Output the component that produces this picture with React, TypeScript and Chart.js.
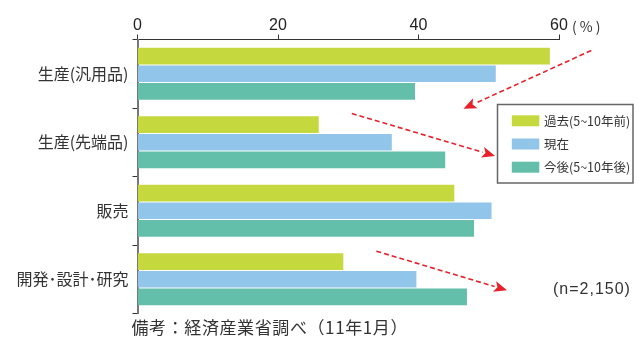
import React, { useEffect, useRef } from "react";
import { Chart, registerables } from "chart.js";

Chart.register(...registerables);

// 業務分野ごとの海外展開の割合（％）
const categories = ["生産(汎用品)", "生産(先端品)", "販売", "開発･設計･研究"];
const seriesLabels = ["過去(5~10年前)", "現在", "今後(5~10年後)"];
const pastValues = [58.7, 25.8, 45.1, 29.3];
const currentValues = [51.0, 36.2, 50.4, 39.7];
const futureValues = [39.5, 43.8, 47.9, 46.9];
const seriesColors = ["#c5d93f", "#92c5ea", "#63bfaa"];
const xTicks = [0, 20, 40, 60];
const unitLabel = "(%)";
const sampleNote = "(n=2,150)";
const sourceNote = "備考：経済産業省調べ（11年1月）";

// 矢印（x: ％の値, y: カテゴリ番号）
const arrows = [
  { from: [64.6, -0.34], to: [46.4, 0.51] },
  { from: [30.5, 0.58], to: [50.9, 1.2] },
  { from: [34.0, 2.59], to: [52.6, 3.16] },
];

const CJK = '"Noto Sans CJK JP", "Liberation Sans", sans-serif';
const LATIN = '"Liberation Sans", "Noto Sans CJK JP", sans-serif';

const annotationPlugin = {
  id: "annotations",
  afterDraw(chart: any) {
    const { ctx, chartArea, scales } = chart;
    const xs = scales.x;
    const ys = scales.y;
    ctx.save();

    // 単位
    ctx.fillStyle = "#333";
    ctx.font = `14px ${CJK}`;
    ctx.textAlign = "left";
    ctx.textBaseline = "middle";
    ctx.letterSpacing = "3px";
    ctx.fillText(unitLabel, xs.getPixelForValue(60) + 13, 27);
    ctx.letterSpacing = "0px";

    // 矢印
    const red = "#e8202a";
    arrows.forEach((a) => {
      const x1 = xs.getPixelForValue(a.from[0]);
      const y1 = ys.getPixelForValue(a.from[1]);
      const x2 = xs.getPixelForValue(a.to[0]);
      const y2 = ys.getPixelForValue(a.to[1]);
      const ang = Math.atan2(y2 - y1, x2 - x1);
      const headLen = 13;
      const headW = 5.5;
      const bx = x2 - Math.cos(ang) * headLen;
      const by = y2 - Math.sin(ang) * headLen;
      ctx.strokeStyle = red;
      ctx.lineWidth = 1.6;
      ctx.setLineDash([5, 3]);
      ctx.beginPath();
      ctx.moveTo(x1, y1);
      ctx.lineTo(bx, by);
      ctx.stroke();
      ctx.setLineDash([]);
      ctx.fillStyle = red;
      ctx.beginPath();
      ctx.moveTo(x2, y2);
      ctx.lineTo(bx + Math.sin(ang) * headW, by - Math.cos(ang) * headW);
      ctx.lineTo(bx + Math.cos(ang) * 3, by + Math.sin(ang) * 3);
      ctx.lineTo(bx - Math.sin(ang) * headW, by + Math.cos(ang) * headW);
      ctx.closePath();
      ctx.fill();
    });

    // 凡例
    const boxL = chartArea.right - 61.5;
    const boxT = chartArea.top + 65;
    const boxW = 135.5;
    const boxH = 78.5;
    ctx.fillStyle = "#fff";
    ctx.fillRect(boxL, boxT, boxW, boxH);
    ctx.strokeStyle = "#666";
    ctx.lineWidth = 1.5;
    ctx.strokeRect(boxL, boxT, boxW, boxH);
    ctx.font = `12.5px ${CJK}`;
    ctx.textBaseline = "middle";
    chart.data.datasets.forEach((ds: any, i: number) => {
      const cy = boxT + 16.3 + i * 23.2;
      ctx.fillStyle = ds.backgroundColor;
      ctx.fillRect(boxL + 14.3, cy - 5.5, 27.5, 11);
      ctx.fillStyle = "#333";
      ctx.fillText(ds.label, boxL + 46.5, cy + 0.5);
    });

    // 注記
    ctx.font = `16px ${LATIN}`;
    ctx.fillStyle = "#333";
    ctx.textAlign = "left";
    ctx.letterSpacing = "1px";
    ctx.fillText(sampleNote, 553, ys.getPixelForValue(3.15));
    ctx.letterSpacing = "0.6px";
    ctx.font = `17px ${CJK}`;
    ctx.fillText(sourceNote, chartArea.left - 6, chartArea.bottom + 14);
    ctx.letterSpacing = "0px";
    ctx.restore();
  },
};

export default function App() {
  const canvasRef = useRef<HTMLCanvasElement | null>(null);

  useEffect(() => {
    if (!canvasRef.current) return;
    const values = [pastValues, currentValues, futureValues];
    const chart = new Chart(canvasRef.current, {
      type: "bar",
      data: {
        labels: categories,
        datasets: seriesLabels.map((label, i) => ({
          label,
          data: values[i],
          backgroundColor: seriesColors[i],
          borderWidth: 0,
          categoryPercentage: 0.776,
          barPercentage: 0.945,
        })),
      },
      options: {
        indexAxis: "y",
        animation: false,
        responsive: true,
        maintainAspectRatio: false,
        layout: { padding: { left: 0, right: 78, top: 0, bottom: 24.5 } },
        plugins: {
          legend: { display: false },
          tooltip: { enabled: false },
        },
        scales: {
          x: {
            position: "top",
            min: 0,
            max: 60,
            afterBuildTicks: (scale: any) => {
              scale.ticks = xTicks.map((v) => ({ value: v }));
            },
            afterFit: (scale: any) => {
              scale.height = 39.5;
            },
            grid: {
              drawOnChartArea: false,
              drawTicks: true,
              tickLength: 5,
              color: "#333",
            },
            border: { display: true, color: "#333", width: 1 },
            ticks: {
              padding: -1,
              color: "#222",
              font: { family: LATIN, size: 16 },
            },
          },
          y: {
            afterFit: (scale: any) => {
              scale.width = 137.5;
            },
            grid: {
              drawOnChartArea: false,
              drawTicks: true,
              tickLength: 5,
              color: "#333",
            },
            border: { display: true, color: "#777", width: 2 },
            ticks: {
              padding: 4,
              color: "#333",
              font: { family: CJK, size: 16 },
            },
          },
        },
      },
      plugins: [annotationPlugin],
    });
    return () => chart.destroy();
  }, []);

  return (
    <div style={{ position: "absolute", left: 0, top: 0, width: 637, height: 338, background: "#fff" }}>
      <canvas ref={canvasRef} />
    </div>
  );
}
